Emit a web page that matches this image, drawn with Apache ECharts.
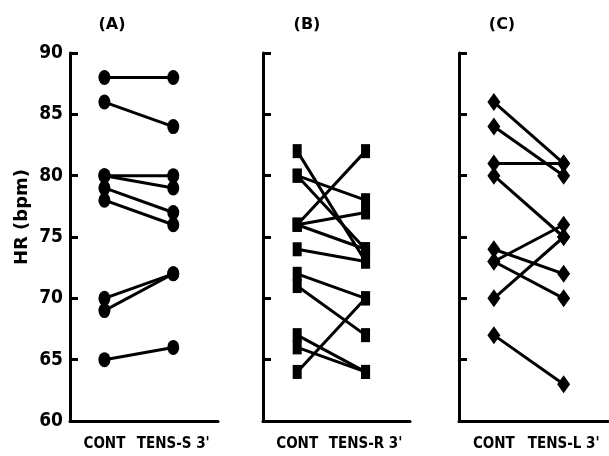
<!DOCTYPE html>
<html><head><meta charset="utf-8">
<script src="https://cdn.jsdelivr.net/npm/echarts@6/dist/echarts.min.js"></script>
<style>html,body{margin:0;padding:0;background:#fff}#c{width:609px;height:456px}</style>
</head><body><div id="c"></div>
<script>
const catA = ['CONT', "TENS-S 3'"];
const catB = ['CONT', "TENS-R 3'"];
const catC = ['CONT', "TENS-L 3'"];
const contA = [88, 86, 80, 80, 79, 78, 70, 69, 65];
const tensA = [88, 84, 80, 79, 77, 76, 72, 72, 66];
const contB = [82, 80, 80, 76, 76, 76, 74, 72, 71, 67, 66, 64];
const tensB = [73, 74, 78, 82, 77, 74, 73, 70, 67, 64, 64, 70];
const contC = [86, 84, 81, 80, 74, 73, 73, 70, 67];
const tensC = [81, 80, 81, 75, 72, 76, 70, 75, 63];
const yTicks = [60, 65, 70, 75, 80, 85, 90];
const titles = ['(A)', '(B)', '(C)'];
const yName = 'HR (bpm)';

const narrow = "'DejaVu Sans Condensed', 'Liberation Sans Narrow', 'Liberation Sans', sans-serif";
const round = "'DejaVu Sans', sans-serif";

const panels = [
  {cats: catA, cont: contA, tens: tensA, left: 70, width: 148, symbol: 'circle', size: [12, 15], title: 107},
  {cats: catB, cont: contB, tens: tensB, left: 263, width: 147, symbol: 'rect', size: [9, 14], title: 302},
  {cats: catC, cont: contC, tens: tensC, left: 459, width: 152, symbol: 'diamond', size: [13, 18], title: 497}
];

const grid = [], xAxis = [], yAxis = [], series = [], title = [];
panels.forEach((p, i) => {
  grid.push({left: p.left, width: p.width, top: 53, height: 368, containLabel: false});
  xAxis.push({
    type: 'value', gridIndex: i, min: -0.5, max: 1.65,
    axisLine: {show: true, onZero: false, lineStyle: {color: '#000', width: 3}},
    axisTick: {show: false}, splitLine: {show: false},
    axisLabel: {
      customValues: [0, 1],
      formatter: v => p.cats[Math.round(v)] || '',
      color: '#000', fontFamily: narrow, fontWeight: 'bold', fontSize: 15, margin: 16
    }
  });
  yAxis.push({
    type: 'value', gridIndex: i, min: yTicks[0], max: yTicks[yTicks.length - 1], interval: 5,
    axisLine: {show: true, onZero: false, lineStyle: {color: '#000', width: 3}},
    axisTick: {show: true, inside: true, length: 8, lineStyle: {color: '#000', width: 3}},
    splitLine: {show: false},
    axisLabel: {show: i === 0, color: '#000', fontFamily: narrow, fontWeight: 'bold', fontSize: 19, margin: 7}
  });
  title.push({
    text: titles[i], left: p.title, top: 12, textAlign: 'center',
    textStyle: {color: '#000', fontFamily: round, fontWeight: 'bold', fontSize: 16}
  });
  p.cont.forEach((c, k) => {
    series.push({
      type: 'line', xAxisIndex: i, yAxisIndex: i,
      data: [[0, c], [1, p.tens[k]]],
      symbol: p.symbol, symbolSize: p.size, showSymbol: true,
      lineStyle: {color: '#000', width: 3}, itemStyle: {color: '#000'},
      silent: true, animation: false
    });
  });
});

const chart = echarts.init(document.getElementById('c'), null, {renderer: 'canvas'});
chart.setOption({
  backgroundColor: '#fff', animation: false, title, grid, xAxis, yAxis, series,
  graphic: [{
    type: 'text', x: 22, y: 217, rotation: Math.PI / 2,
    style: {text: yName, fill: '#000', font: "bold 18px 'DejaVu Sans', sans-serif", align: 'center', verticalAlign: 'middle'}
  }]
});
</script></body></html>
